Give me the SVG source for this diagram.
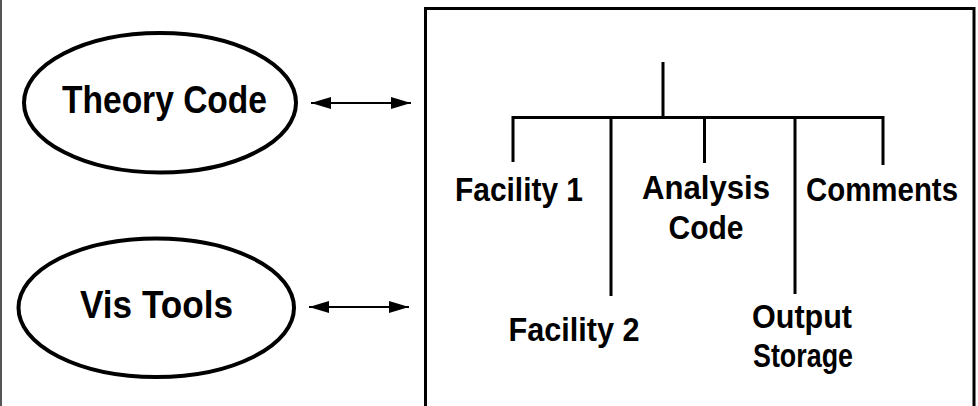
<svg xmlns="http://www.w3.org/2000/svg" width="978" height="406" viewBox="0 0 978 406">
<style>
.node ellipse{fill:#fff;stroke:#000;stroke-width:4}
.lbl{font-family:"Liberation Sans",Arial,sans-serif;font-weight:bold;fill:#000;text-anchor:middle}
.big{font-size:39px}
.sm{font-size:33px}
.tree{stroke:#000;stroke-width:3;fill:none}
.arr{stroke:#000;stroke-width:2;fill:none}
</style>
<defs>
<marker id="ah" viewBox="0 0 20 12" refX="20" refY="6" markerWidth="20" markerHeight="12" markerUnits="userSpaceOnUse" orient="auto-start-reverse">
<path d="M0,0 L20,6 L0,12 Z" fill="#000"/>
</marker>
</defs>
<rect width="978" height="406" fill="#fff"/>
<line x1="1" y1="0" x2="1" y2="406" stroke="#555" stroke-width="2"/>
<g id="box">
<path d="M425.5,410 V8.5 H974 V410" fill="none" stroke="#000" stroke-width="3"/>
</g>
<g id="theory" class="node">
<ellipse cx="160" cy="102.75" rx="136" ry="69.75"/>
<text class="lbl big" x="164.5" y="113" textLength="205" lengthAdjust="spacingAndGlyphs">Theory Code</text>
</g>
<g id="vis" class="node">
<ellipse cx="156.25" cy="307.75" rx="137.75" ry="69.25"/>
<text class="lbl big" x="156.5" y="318" textLength="153" lengthAdjust="spacingAndGlyphs">Vis Tools</text>
</g>
<g id="connectors">
<line class="arr" x1="311" y1="103" x2="411" y2="103" marker-start="url(#ah)" marker-end="url(#ah)"/>
<line class="arr" x1="309" y1="307" x2="409" y2="307" marker-start="url(#ah)" marker-end="url(#ah)"/>
<path class="tree" d="M663,62 V117.5 M511.5,117.5 H884.5 M513,117.5 V162 M611,117.5 V296 M704.5,117.5 V163 M795,117.5 V294 M883,117.5 V165"/>
</g>
<g id="facility1"><text class="lbl sm" x="519" y="201" textLength="128" lengthAdjust="spacingAndGlyphs">Facility 1</text></g>
<g id="facility2"><text class="lbl sm" x="574" y="341" textLength="131" lengthAdjust="spacingAndGlyphs">Facility 2</text></g>
<g id="analysis"><text class="lbl sm" x="706" y="199" textLength="128" lengthAdjust="spacingAndGlyphs">Analysis</text><text class="lbl sm" x="706" y="239" textLength="75" lengthAdjust="spacingAndGlyphs">Code</text></g>
<g id="output"><text class="lbl sm" x="802" y="328" textLength="100" lengthAdjust="spacingAndGlyphs">Output</text><text class="lbl sm" x="803" y="367" textLength="100" lengthAdjust="spacingAndGlyphs">Storage</text></g>
<g id="comments"><text class="lbl sm" x="882" y="201" textLength="152" lengthAdjust="spacingAndGlyphs">Comments</text></g>
</svg>
